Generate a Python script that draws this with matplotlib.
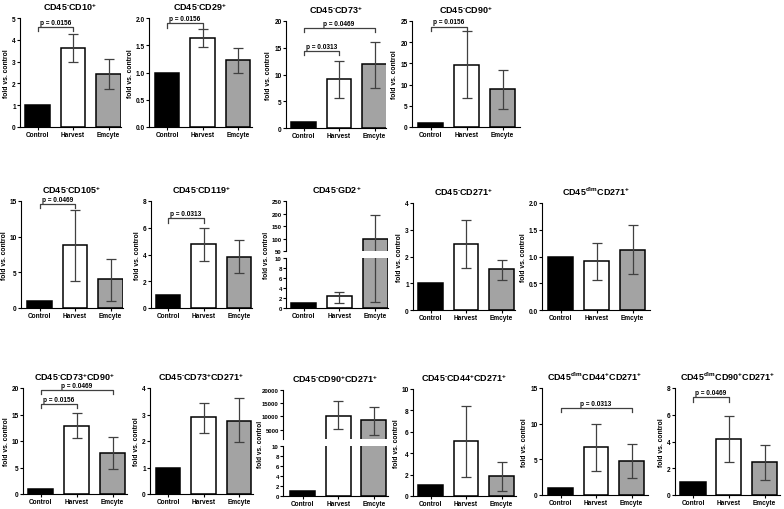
"""Fold change vs. control for CD45 subsets: 15 small bar panels."""
import matplotlib
matplotlib.use("Agg")
import matplotlib.pyplot as plt
import numpy as np

plt.rcParams["font.family"] = "Liberation Sans"
plt.rcParams["font.weight"] = "bold"
plt.rcParams["mathtext.fontset"] = "custom"
plt.rcParams["mathtext.rm"] = "Liberation Sans:bold"
plt.rcParams["mathtext.it"] = "Liberation Sans:bold"
plt.rcParams["mathtext.bf"] = "Liberation Sans:bold"
plt.rcParams["mathtext.default"] = "rm"

GROUPS = ["Control", "Harvest", "Emcyte"]
BAR_COLORS = ["black", "white", "#a3a3a3"]
ERR_COLOR = "#404040"

NEG = r"$^{\text{-}}$"
POS = "$^{+}$"
DIM = "$^{dim}$"
TITLES = [
    f"CD45{NEG}CD10{POS}", f"CD45{NEG}CD29{POS}", f"CD45{NEG}CD73{POS}",
    f"CD45{NEG}CD90{POS}", f"CD45{NEG}CD105{POS}", f"CD45{NEG}CD119{POS}",
    f"CD45{NEG}GD2{POS}", f"CD45{NEG}CD271{POS}", f"CD45{DIM}CD271{POS}",
    f"CD45{NEG}CD73{POS}CD90{POS}", f"CD45{NEG}CD73{POS}CD271{POS}",
    f"CD45{NEG}CD90{POS}CD271{POS}", f"CD45{NEG}CD44{POS}CD271{POS}",
    f"CD45{DIM}CD44{POS}CD271{POS}", f"CD45{DIM}CD90{POS}CD271{POS}",
]
# bar heights (Control, Harvest, Emcyte)
MEANS = [
    [1, 3.63, 2.43], [1, 1.63, 1.23], [1.05, 9.1, 11.9], [1, 14.6, 8.9],
    [1, 8.8, 4.0], [1, 4.78, 3.82], [1, 2.3, 98], [1, 2.48, 1.53],
    [1, 0.92, 1.13], [1, 12.9, 7.8], [1, 2.9, 2.75], [1, 10300, 8700],
    [1, 5.1, 1.88], [1, 6.7, 4.75], [1, 4.21, 2.45],
]
# whisker ends for Harvest and Emcyte
ERR_LOW = [
    [3.0, 1.76], [1.47, 1.0], [5.7, 7.4], [6.9, 4.2], [3.74, 1.05],
    [3.52, 2.59], [1.05, 1.25], [1.56, 1.13], [0.57, 0.665], [10.6, 4.8],
    [2.32, 1.95], [5200, 3100], [1.8, 0.45], [3.4, 2.36], [2.45, 1.09],
]
ERR_HIGH = [
    [4.27, 3.1], [1.79, 1.45], [12.5, 16.1], [22.6, 13.5], [13.8, 6.9],
    [6.0, 5.08], [3.24, 193], [3.38, 1.88], [1.25, 1.59], [15.2, 10.7],
    [3.45, 3.62], [15700, 13700], [8.38, 3.22], [9.9, 7.15], [5.93, 3.76],
]
YMAX = [5, 2, 20, 25, 15, 8, 10, 4, 2, 20, 4, 10, 10, 15, 8]
YSTEP = [1, 0.5, 5, 5, 5, 2, 2, 1, 0.5, 5, 1, 2, 2, 5, 2]
# significance brackets: panel -> list of (group a, group b, height, label)
BRACKETS = {
    0: [(0, 1, 4.6, "p = 0.0156")],
    1: [(0, 1, 1.9, "p = 0.0156")],
    2: [(0, 1, 14.4, "p = 0.0313"), (0, 2, 18.7, "p = 0.0469")],
    3: [(0, 1, 23.7, "p = 0.0156")],
    4: [(0, 1, 14.6, "p = 0.0469")],
    5: [(0, 1, 6.7, "p = 0.0313")],
    9: [(0, 1, 17.0, "p = 0.0156"), (0, 2, 19.6, "p = 0.0469")],
    13: [(0, 2, 12.2, "p = 0.0313")],
    14: [(0, 1, 7.3, "p = 0.0469")],
}
# broken axes: panel -> (upper ylim, upper ticks)
BROKEN = {
    6: ((50, 250), [50, 100, 150, 200, 250]),
    11: ((1500, 20000), [5000, 10000, 15000, 20000]),
}

# layout in pixels: spine x, top, right end, bottom, control bar centre, bar spacing
LAYOUT = [
    (20, 19, 121, 128, 37.5, 35.5), (149, 19, 252, 128, 167, 35.5),
    (286, 22, 386, 129, 303.5, 35.5), (412, 22, 520, 128, 430.5, 36),
    (21, 202, 123, 309, 39.5, 35.5), (151, 202, 252, 309, 168, 35.5),
    (286, 202, 388, 309, 303.5, 35.8), (413, 204, 515, 311, 430.5, 35.5),
    (542, 204, 650, 311, 560.5, 36), (23, 389, 127, 495, 40.5, 36),
    (150, 389, 253, 495, 168, 35.5), (283, 391, 388, 497, 302.5, 35.7),
    (413, 390, 516, 497, 430.5, 35.5), (542, 389, 648, 496, 560.5, 35.5),
    (675, 389, 780, 496, 693, 35.75),
]
BROKEN_SPLIT = {6: (252.3, 258.7), 11: (440, 447)}
BROKEN_LABEL_X = {6: 266.5, 11: 261}

W, H = 784, 510
BAR_W = 0.7


def add_ax(fig, left, top, right, bottom):
    return fig.add_axes([left / W, 1 - bottom / H, (right - left) / W, (bottom - top) / H])


def style(ax, show_x=True, ysize=4.7):
    for s in ("top", "right"):
        ax.spines[s].set_visible(False)
    ax.spines["left"].set_linewidth(0.8)
    ax.spines["bottom"].set_linewidth(0.8)
    ax.tick_params(axis="both", length=2, width=0.8, labelsize=4.7, pad=1)
    ax.tick_params(axis="y", labelsize=ysize)
    if not show_x:
        ax.spines["bottom"].set_visible(False)
        ax.tick_params(axis="x", bottom=False, labelbottom=False)


def draw_bars(ax, i):
    x = np.arange(3)
    ax.bar(x, MEANS[i], width=BAR_W, color=BAR_COLORS, edgecolor="black",
           linewidth=1.1, zorder=2)
    m = np.array(MEANS[i][1:])
    lo = m - np.array(ERR_LOW[i])
    hi = np.array(ERR_HIGH[i]) - m
    ax.errorbar(x[1:], m, yerr=[lo, hi], fmt="none", ecolor=ERR_COLOR,
                elinewidth=0.9, capsize=3.6, capthick=0.9, zorder=3)


def fmt_tick(v, step):
    return f"{v:.1f}" if step < 1 else f"{int(v)}"


fig = plt.figure(figsize=(W / 100, H / 100), dpi=100)

for i in range(15):
    s, top, r, bottom, c0, d = LAYOUT[i]
    xlim = ((s - c0) / d, (r - c0) / d)
    if i in BROKEN:
        (ulo, uhi), uticks = BROKEN[i]
        ub, lt = BROKEN_SPLIT[i]
        ax_u = add_ax(fig, s, top, r, ub)
        ax = add_ax(fig, s, lt, r, bottom)
        for a in (ax_u, ax):
            draw_bars(a, i)
            a.set_xlim(*xlim)
        style(ax_u, show_x=False, ysize=4.3)
        ax_u.set_ylim(ulo, uhi)
        ax_u.set_yticks(uticks)
        ax_u.set_title(TITLES[i], fontsize=6.5, fontweight="bold", pad=6)
        style(ax, ysize=4.3)
    else:
        ax = add_ax(fig, s, top, r, bottom)
        draw_bars(ax, i)
        ax.set_xlim(*xlim)
        ax.set_title(TITLES[i], fontsize=6.5, fontweight="bold", pad=6)
        style(ax)
    ax.set_ylim(0, YMAX[i])
    ticks = np.arange(0, YMAX[i] + YSTEP[i] / 2, YSTEP[i])
    ax.set_yticks(ticks)
    ax.set_yticklabels([fmt_tick(t, YSTEP[i]) for t in ticks])
    ax.set_xticks(np.arange(3))
    ax.set_xticklabels(GROUPS)
    if i in BROKEN:
        fig.text(BROKEN_LABEL_X[i] / W, 1 - ((top + bottom) / 2) / H, "fold vs. control",
                 rotation=90, fontsize=4.7, fontweight="bold", ha="center", va="center",
                 zorder=0)
    else:
        ax.set_ylabel("fold vs. control", fontsize=4.9, fontweight="bold", labelpad=1.5)

    for a, b, y, label in BRACKETS.get(i, []):
        tick = YMAX[i] * 0.04
        ax.plot([a, a, b, b], [y - tick, y, y, y - tick], color=ERR_COLOR,
                linewidth=0.9, clip_on=False, zorder=4)
        ax.text((a + b) / 2, y + YMAX[i] * 0.01, label, ha="center", va="bottom",
                fontsize=4.7, fontweight="bold", clip_on=False)

fig.savefig("out.png", dpi=100)
